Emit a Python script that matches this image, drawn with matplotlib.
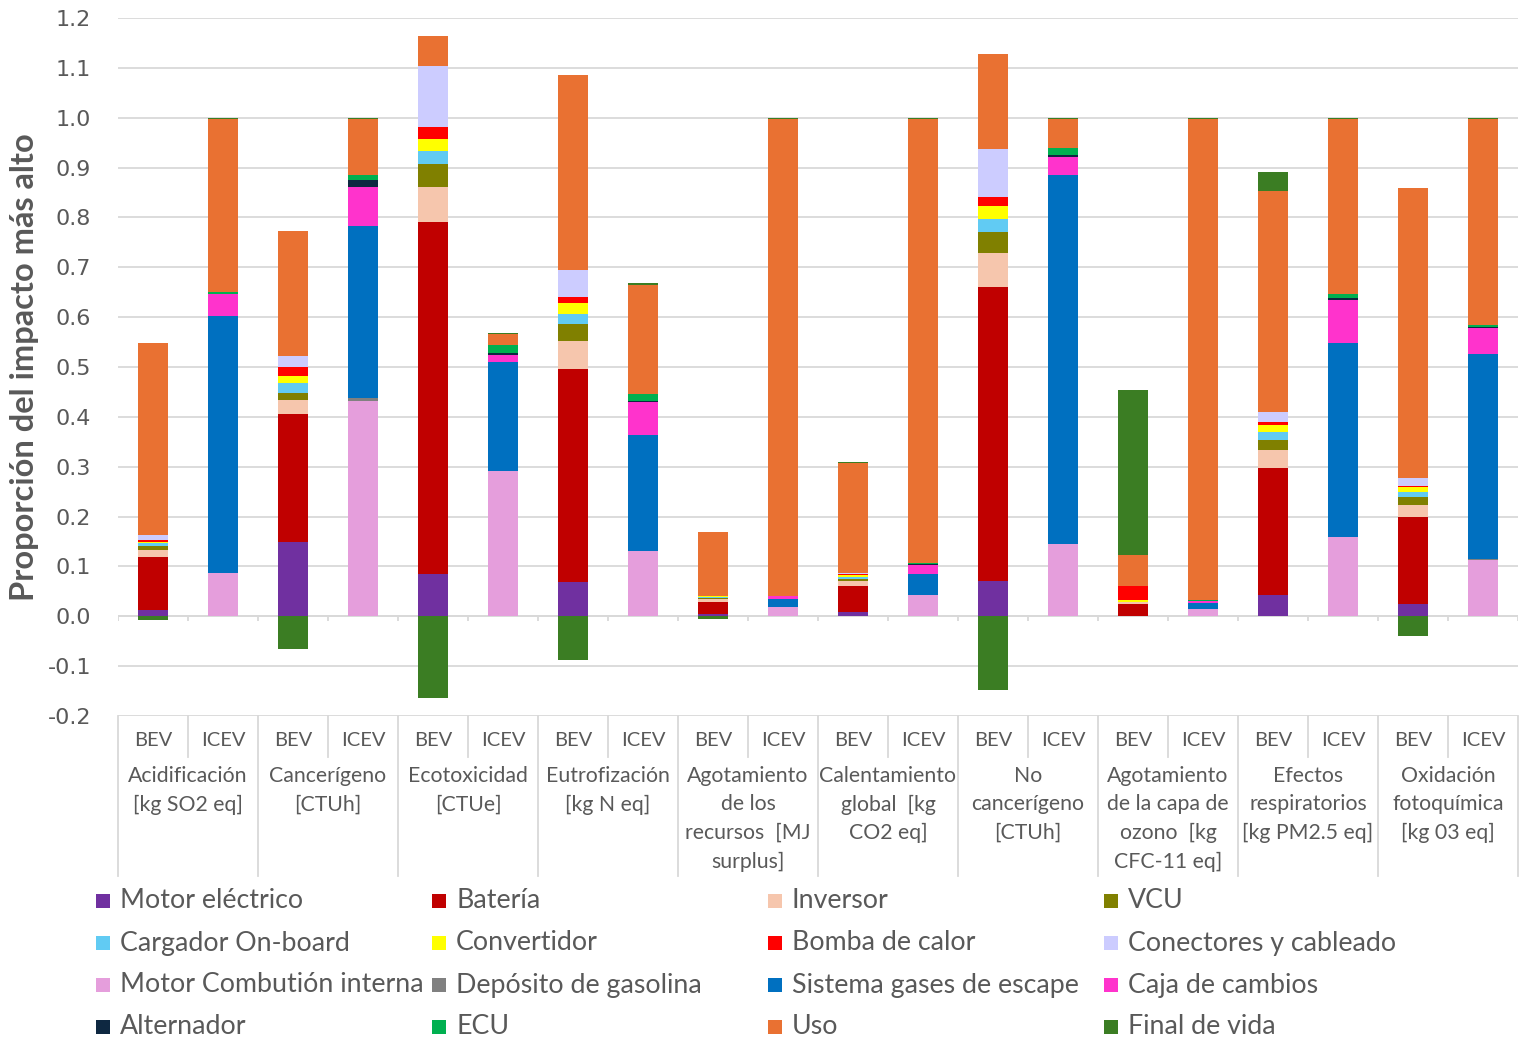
import numpy as np
import matplotlib
matplotlib.use("Agg")
import matplotlib.pyplot as plt
from matplotlib.patches import Rectangle
from matplotlib.lines import Line2D

# ---- data -------------------------------------------------------------
bar_labels = ["BEV", "ICEV"] * 10
group_labels = [
    ["Acidificación", "[kg SO2 eq]"],
    ["Cancerígeno", "[CTUh]"],
    ["Ecotoxicidad", "[CTUe]"],
    ["Eutrofización", "[kg N eq]"],
    ["Agotamiento", "de los", "recursos  [MJ", "surplus]"],
    ["Calentamiento", "global  [kg", "CO2 eq]"],
    ["No", "cancerígeno", "[CTUh]"],
    ["Agotamiento", "de la capa de", "ozono  [kg", "CFC-11 eq]"],
    ["Efectos", "respiratorios", "[kg PM2.5 eq]"],
    ["Oxidación", "fotoquímica", "[kg 03 eq]"],
]

motor_electrico = [0.013, 0, 0.149, 0, 0.084, 0, 0.068, 0, 0.004, 0,
                   0.009, 0, 0.070, 0, 0.000, 0, 0.043, 0, 0.024, 0]
bateria = [0.105, 0, 0.257, 0, 0.707, 0, 0.427, 0, 0.025, 0,
           0.051, 0, 0.590, 0, 0.024, 0, 0.255, 0, 0.175, 0]
inversor = [0.015, 0, 0.027, 0, 0.071, 0, 0.058, 0, 0.006, 0,
            0.010, 0, 0.068, 0, 0.005, 0, 0.035, 0, 0.025, 0]
vcu = [0.008, 0, 0.014, 0, 0.046, 0, 0.034, 0, 0.001, 0,
       0.005, 0, 0.043, 0, 0.000, 0, 0.020, 0, 0.016, 0]
cargador = [0.005, 0, 0.021, 0, 0.025, 0, 0.020, 0, 0.002, 0,
            0.003, 0, 0.025, 0, 0.000, 0, 0.016, 0, 0.010, 0]
convertidor = [0.004, 0, 0.014, 0, 0.025, 0, 0.022, 0, 0.002, 0,
               0.005, 0, 0.026, 0, 0.004, 0, 0.014, 0, 0.009, 0]
bomba_calor = [0.004, 0, 0.018, 0, 0.023, 0, 0.011, 0, 0.000, 0,
               0.002, 0, 0.018, 0, 0.028, 0, 0.006, 0, 0.003, 0]
conectores = [0.010, 0, 0.023, 0, 0.122, 0, 0.055, 0, 0.000, 0,
              0.002, 0, 0.098, 0, 0.000, 0, 0.020, 0, 0.015, 0]
motor_combustion = [0, 0.086, 0, 0.431, 0, 0.291, 0, 0.130, 0, 0.019,
                    0, 0.042, 0, 0.144, 0, 0.014, 0, 0.159, 0, 0.113]
deposito = [0, 0.001, 0, 0.006, 0, 0.001, 0, 0.001, 0, 0.000,
            0, 0.001, 0, 0.001, 0, 0.000, 0, 0.001, 0, 0.001]
sistema_escape = [0, 0.516, 0, 0.345, 0, 0.219, 0, 0.233, 0, 0.016,
                  0, 0.041, 0, 0.740, 0, 0.013, 0, 0.389, 0, 0.412]
caja_cambios = [0, 0.043, 0, 0.080, 0, 0.014, 0, 0.065, 0, 0.005,
                0, 0.019, 0, 0.036, 0, 0.003, 0, 0.086, 0, 0.052]
alternador = [0, 0.001, 0, 0.013, 0, 0.003, 0, 0.003, 0, 0.000,
              0, 0.001, 0, 0.004, 0, 0.000, 0, 0.003, 0, 0.002]
ecu = [0, 0.003, 0, 0.010, 0, 0.017, 0, 0.013, 0, 0.001,
       0, 0.003, 0, 0.014, 0, 0.002, 0, 0.008, 0, 0.005]
uso = [0.385, 0.348, 0.249, 0.113, 0.060, 0.022, 0.390, 0.220, 0.129, 0.957,
       0.221, 0.891, 0.190, 0.059, 0.062, 0.966, 0.445, 0.352, 0.582, 0.413]
final_vida = [-0.008, 0.002, -0.065, 0.002, -0.163, 0.002, -0.087, 0.003, -0.005, 0.002,
              0.002, 0.002, -0.147, 0.002, 0.330, 0.002, 0.038, 0.002, -0.040, 0.002]

series_names = ["Motor eléctrico", "Batería", "Inversor", "VCU",
                "Cargador On-board", "Convertidor", "Bomba de calor", "Conectores y cableado",
                "Motor Combutión interna", "Depósito de gasolina", "Sistema gases de escape",
                "Caja de cambios", "Alternador", "ECU", "Uso", "Final de vida"]
series_values = [motor_electrico, bateria, inversor, vcu, cargador, convertidor,
                 bomba_calor, conectores, motor_combustion, deposito, sistema_escape,
                 caja_cambios, alternador, ecu, uso, final_vida]
series_colors = ["#7030A0", "#C00000", "#F6C6AD", "#808000",
                 "#61CBF3", "#FFFF00", "#FF0000", "#CCCCFF",
                 "#E59EDC", "#808080", "#0070C0", "#FF33CC",
                 "#0E2841", "#00B050", "#E97132", "#3B7D23"]

# ---- figure -----------------------------------------------------------
W, H = 1524, 1040
fig = plt.figure(figsize=(W / 100, H / 100), dpi=100)
ax_l, ax_r, ax_t, ax_b = 118, 1518, 18, 716
ax = fig.add_axes([ax_l / W, 1 - ax_b / H, (ax_r - ax_l) / W, (ax_b - ax_t) / H])

text_grey = "#595959"
grid_grey = "#D9D9D9"
cat_font = "Lato"

x = np.arange(len(bar_labels))
pos_bottom = np.zeros(len(x))
neg_bottom = np.zeros(len(x))
for vals, col in zip(series_values, series_colors):
    v = np.asarray(vals, dtype=float)
    bottoms = np.where(v >= 0, pos_bottom, neg_bottom)
    ax.bar(x, v, width=0.43, bottom=bottoms, color=col, linewidth=0, zorder=3)
    pos_bottom += np.where(v > 0, v, 0)
    neg_bottom += np.where(v < 0, v, 0)

ax.set_xlim(-0.5, len(x) - 0.5)
ax.set_ylim(-0.2, 1.2)
ax.set_yticks(np.round(np.arange(-0.2, 1.21, 0.1), 1))
ax.yaxis.set_major_formatter(matplotlib.ticker.FormatStrFormatter("%.1f"))
ax.tick_params(axis="y", length=0, pad=19.5, labelsize=16, labelcolor=text_grey)
for lbl in ax.get_yticklabels():
    lbl.set_fontfamily("DejaVu Sans")
ax.set_xticks([])
ax.grid(axis="y", color=grid_grey, linewidth=1.3, zorder=0)
for s in ax.spines.values():
    s.set_visible(False)

# category axis line at zero with ticks between bars
ax.axhline(0, color=grid_grey, linewidth=1.3, zorder=2)
ax.vlines(np.arange(-0.5, len(x)), 0, -0.009, color=grid_grey, linewidth=1.3, zorder=2)

ax.set_ylabel("Proporción del impacto más alto", fontsize=23.5, fontweight="bold",
              color=text_grey, family=cat_font)
ax.yaxis.label.set_verticalalignment("center")
ax.yaxis.set_label_coords((25 - ax_l) / (ax_r - ax_l), (716 - 367) / (ax_b - ax_t))

# ---- multi-level category labels below the plot -----------------------
tr = ax.get_xaxis_transform()
hpx = ax_b - ax_t


def yfrac(py):
    return (ax_b - py) / hpx


line_kw = dict(color=grid_grey, linewidth=1.3, transform=tr, clip_on=False)
for k in range(len(x) + 1):
    xb = k - 0.5
    if k % 2 == 0:
        ax.add_line(Line2D([xb, xb], [yfrac(716), yfrac(876)], **line_kw))
    else:
        ax.add_line(Line2D([xb, xb], [yfrac(716), yfrac(757)], **line_kw))

for xi, lab in zip(x, bar_labels):
    ax.text(xi, yfrac(740), lab, transform=tr, ha="center", va="center",
            fontsize=14.5, color=text_grey, family=cat_font)

for g, lines in enumerate(group_labels):
    xc = 2 * g + 0.5
    for j, ln in enumerate(lines):
        ax.text(xc, yfrac(776 + 28.5 * j), ln, transform=tr, ha="center", va="center",
                fontsize=15.3, color=text_grey, family=cat_font)

# ---- legend (4 columns, row-major) ------------------------------------
col_x = [96, 432, 768, 1104]
row_y = [901, 943, 985, 1027]
sq = 14
for i, (name, col) in enumerate(zip(series_names, series_colors)):
    r, c = divmod(i, 4)
    px, py = col_x[c], row_y[r]
    fig.patches.append(Rectangle((px / W, 1 - (py + sq / 2) / H), sq / W, sq / H,
                                 transform=fig.transFigure, facecolor=col,
                                 edgecolor="none"))
    fig.text((px + 24) / W, 1 - py / H, name, ha="left", va="center",
             fontsize=19.3, color=text_grey, family=cat_font)

fig.savefig("out.png", dpi=100, facecolor="white")
